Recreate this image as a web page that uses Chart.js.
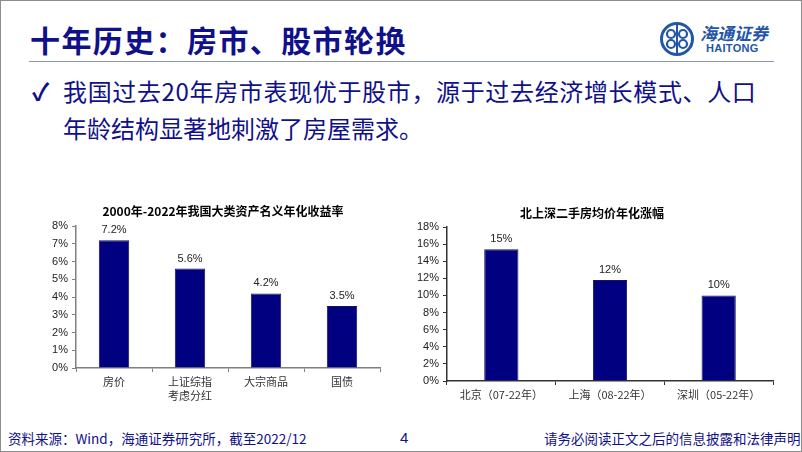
<!DOCTYPE html>
<html>
<head>
<meta charset="utf-8">
<script src="https://cdn.jsdelivr.net/npm/chart.js@4"></script>
<style>
  body { margin: 0; background: #fff; }
  #slide { position: relative; width: 800px; height: 450px; border: 1px solid #8c8c8c; overflow: hidden; background: #fff; }
  .abs { position: absolute; white-space: nowrap; }
  #title { left: 29px; top: 18px; font: bold 30px 'Noto Sans CJK SC'; letter-spacing: 1.4px; color: #10108a; line-height: 40px; }
  #rule { left: 28px; top: 60px; width: 745px; height: 0; border-top: 1.5px solid #8797b8; }
  .bullet { font: 24px 'Noto Sans CJK SC'; color: #10108a; line-height: 30px; }
  .foot { font: 13.5px 'Noto Sans CJK SC'; color: #10108a; line-height: 18px; top: 428px; }
  canvas { position: absolute; }
</style>
</head>
<body>
<div id="slide">
  <div id="title" class="abs">十年历史：房市、股市轮换</div>
  <div id="rule" class="abs"></div>
  <svg class="abs" style="left:658px;top:20px" width="36" height="36" viewBox="0 0 36 36">
    <circle cx="18" cy="18" r="15.5" fill="none" stroke="#2356a8" stroke-width="3"/>
    <circle cx="12" cy="13" r="4" fill="none" stroke="#2356a8" stroke-width="2.2"/>
    <circle cx="24" cy="13" r="4" fill="none" stroke="#2356a8" stroke-width="2.2"/>
    <circle cx="12" cy="23" r="4" fill="none" stroke="#2356a8" stroke-width="2.2"/>
    <circle cx="24" cy="23" r="4" fill="none" stroke="#2356a8" stroke-width="2.2"/>
    <line x1="18" y1="4" x2="18" y2="32" stroke="#2356a8" stroke-width="2"/>
  </svg>
  <div class="abs" style="left:699px;top:21px;font:italic bold 17px 'Noto Sans CJK SC';color:#2356a8;line-height:22px;">海通证券</div>
  <div class="abs" style="left:705px;top:41px;font:bold 11px 'Liberation Sans';color:#2356a8;line-height:13px;letter-spacing:0.3px;">HAITONG</div>
  <div class="abs bullet" style="left:31px;top:75px;font-weight:bold;">✓</div>
  <div class="abs bullet" style="left:62px;top:75px;letter-spacing:0.65px;">我国过去20年房市表现优于股市，源于过去经济增长模式、人口</div>
  <div class="abs bullet" style="left:62px;top:112px;">年龄结构显著地刺激了房屋需求。</div>
  <canvas id="left" width="370" height="215" style="left:30px;top:199px"></canvas>
  <canvas id="right" width="385" height="215" style="left:404px;top:199px"></canvas>
  <div class="abs foot" style="left:7px;">资料来源：Wind，海通证券研究所，截至2022/12</div>
  <div class="abs foot" style="left:399px;font-family:'Liberation Sans';font-size:15px;">4</div>
  <div class="abs foot" style="left:543px;">请务必阅读正文之后的信息披露和法律声明</div>
</div>
<script>
const assetLabels = ['房价', ['上证综指', '考虑分红'], '大宗商品', '国债'];
const assetReturns = [7.2, 5.6, 4.2, 3.5];
const cityLabels = ['北京（07-22年）', '上海（08-22年）', '深圳（05-22年）'];
const cityGrowth = [15.4, 11.8, 10.0];

const navy = '#000080';
const cjk = "'Noto Sans CJK SC'";
const latin = "'Liberation Sans', Arial";

// value labels above each bar, plus the chart title (drawn off-centre like the slide)
const barLabels = {
  id: 'barLabels',
  afterDatasetsDraw(chart, args, opts) {
    const ctx = chart.ctx;
    const meta = chart.getDatasetMeta(0);
    ctx.save();
    ctx.font = '11px ' + latin;
    ctx.fillStyle = '#222';
    ctx.textAlign = 'center';
    ctx.textBaseline = 'middle';
    meta.data.forEach((bar, i) => {
      ctx.fillText(opts.fmt(chart.data.datasets[0].data[i]), bar.x, bar.y - 10);
    });
    ctx.font = 'bold 12px ' + cjk;
    ctx.fillStyle = '#000';
    ctx.fillText(opts.title, opts.titleX, opts.titleY);
    ctx.restore();
  }
};

function makeChart(id, labels, data, cfg) {
  return new Chart(document.getElementById(id), {
    type: 'bar',
    data: {
      labels: labels,
      datasets: [{
        data: data,
        backgroundColor: navy,
        borderColor: '#14145a',
        borderWidth: 1,
        categoryPercentage: 1,
        barPercentage: cfg.barPct
      }]
    },
    options: {
      responsive: false,
      animation: false,
      layout: { padding: { top: cfg.padTop, right: cfg.padRight, left: 0, bottom: 0 } },
      plugins: {
        legend: { display: false },
        tooltip: { enabled: false },
        barLabels: { fmt: cfg.fmt, title: cfg.title, titleX: cfg.titleX, titleY: cfg.titleY }
      },
      scales: {
        x: {
          grid: { display: true, drawOnChartArea: false, tickLength: 4, color: cfg.axisColor, offset: true },
          border: { display: true, color: cfg.axisColor, width: 1.5 },
          ticks: { color: '#333', font: { family: cjk, size: 11, lineHeight: 1.25 }, padding: 3, autoSkip: false, maxRotation: 0 },
          afterFit(scale) { scale.height = cfg.xHeight; }
        },
        y: {
          min: 0, max: cfg.max,
          grid: { display: true, drawOnChartArea: false, tickLength: 4, color: cfg.axisColor },
          border: { display: true, color: cfg.axisColor, width: 1.5 },
          ticks: { stepSize: cfg.step, color: '#222', font: { family: latin, size: 11 }, padding: 4, callback: v => v + '%' },
          afterFit(scale) { scale.width = cfg.yWidth; }
        }
      }
    },
    plugins: [barLabels]
  });
}

makeChart('left', assetLabels, assetReturns, {
  title: '2000年-2022年我国大类资产名义年化收益率',
  titleX: 192, titleY: 11, padTop: 26,
  max: 8, step: 1, barPct: 0.4,
  padRight: 21, yWidth: 45, xHeight: 47,
  axisColor: '#808080',
  fmt: v => v.toFixed(1) + '%'
});

makeChart('right', cityLabels, cityGrowth, {
  title: '北上深二手房均价年化涨幅',
  titleX: 187, titleY: 13, padTop: 27,
  max: 18, step: 2, barPct: 0.315,
  padRight: 17, yWidth: 42, xHeight: 34,
  axisColor: '#333',
  fmt: v => Math.round(v) + '%'
});
</script>
</body>
</html>
